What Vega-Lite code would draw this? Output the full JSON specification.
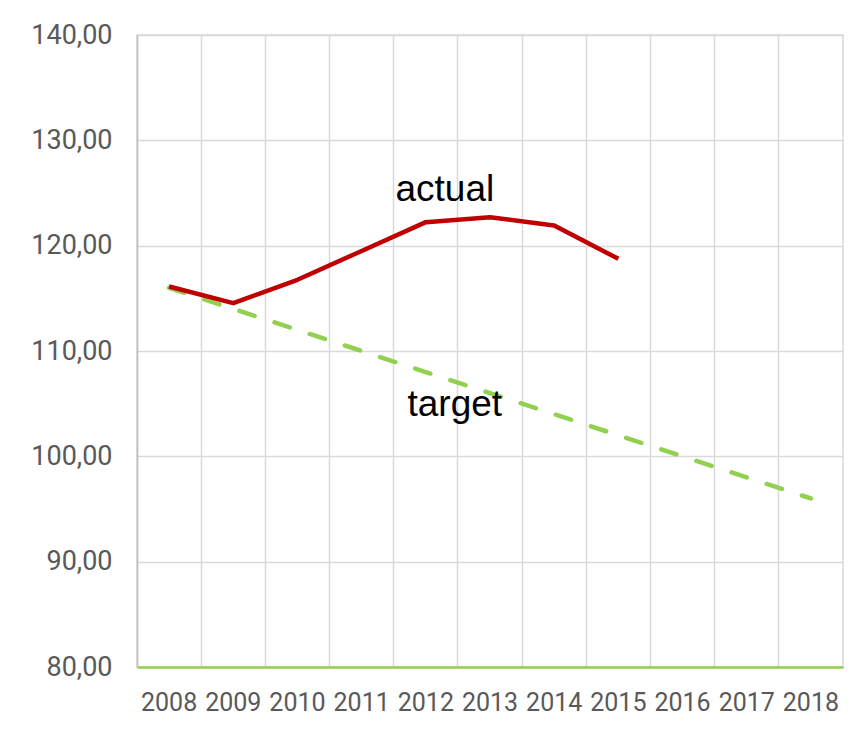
{
  "$schema": "https://vega.github.io/schema/vega-lite/v6.json",
  "width": 706,
  "height": 632,
  "autosize": {"type": "none"},
  "padding": {"left": 137, "top": 35, "right": 12, "bottom": 62},
  "background": "white",
  "config": {
    "view": {"stroke": "#d9d9d9", "strokeWidth": 1.5},
    "axis": {"labelFont": "Roboto", "labelFontSize": 25, "labelColor": "#595959", "gridColor": "#d9d9d9", "gridWidth": 1.5, "ticks": false, "title": null}
  },
  "datasets": {
    "series": [
      {"year": "2008", "series": "actual", "value": 116.12},
      {"year": "2009", "series": "actual", "value": 114.54},
      {"year": "2010", "series": "actual", "value": 116.76},
      {"year": "2011", "series": "actual", "value": 119.5},
      {"year": "2012", "series": "actual", "value": 122.23},
      {"year": "2013", "series": "actual", "value": 122.7},
      {"year": "2014", "series": "actual", "value": 121.91},
      {"year": "2015", "series": "actual", "value": 118.75},
      {"year": "2008", "series": "target", "value": 116},
      {"year": "2009", "series": "target", "value": 114},
      {"year": "2010", "series": "target", "value": 112},
      {"year": "2011", "series": "target", "value": 110},
      {"year": "2012", "series": "target", "value": 108},
      {"year": "2013", "series": "target", "value": 106},
      {"year": "2014", "series": "target", "value": 104},
      {"year": "2015", "series": "target", "value": 102},
      {"year": "2016", "series": "target", "value": 100},
      {"year": "2017", "series": "target", "value": 98},
      {"year": "2018", "series": "target", "value": 96}
    ],
    "labels": [
      {"year": "2012", "label": "actual", "value": 125.3},
      {"year": "2012", "label": "target", "value": 104.9}
    ]
  },
  "encoding": {
    "x": {
      "field": "year", "type": "ordinal",
      "scale": {"type": "band", "paddingInner": 0, "paddingOuter": 0, "domain": ["2008","2009","2010","2011","2012","2013","2014","2015","2016","2017","2018"]},
      "axis": {"labelAngle": 0, "bandPosition": 0, "grid": true, "domainColor": "#92D050", "domainWidth": 2.5, "labelPadding": 23}
    },
    "y": {
      "field": "value", "type": "quantitative",
      "scale": {"domain": [80, 140], "nice": false, "zero": false},
      "axis": {"values": [80, 90, 100, 110, 120, 130, 140], "labelExpr": "replace(format(datum.value, '.2f'), '.', ',')", "labelFontSize": 27, "domainColor": "#bfbfbf", "domainWidth": 1.5, "labelPadding": 25}
    }
  },
  "layer": [
    {
      "data": {"name": "series"},
      "transform": [{"filter": "datum.series === 'target'"}],
      "mark": {"type": "line", "color": "#92D050", "strokeWidth": 4.5, "strokeDash": [16, 21], "strokeCap": "round"}
    },
    {
      "data": {"name": "series"},
      "transform": [{"filter": "datum.series === 'actual'"}],
      "mark": {"type": "line", "color": "#C00000", "strokeWidth": 4.5, "strokeJoin": "round"}
    },
    {
      "data": {"name": "labels"},
      "transform": [{"filter": "datum.label === 'actual'"}],
      "mark": {"type": "text", "font": "Liberation Sans", "fontSize": 37, "color": "#000000", "dx": 19, "baseline": "middle", "align": "center"},
      "encoding": {"text": {"field": "label"}}
    },
    {
      "data": {"name": "labels"},
      "transform": [{"filter": "datum.label === 'target'"}],
      "mark": {"type": "text", "font": "Liberation Sans", "fontSize": 37, "color": "#000000", "dx": 29, "baseline": "middle", "align": "center"},
      "encoding": {"text": {"field": "label"}}
    }
  ]
}
